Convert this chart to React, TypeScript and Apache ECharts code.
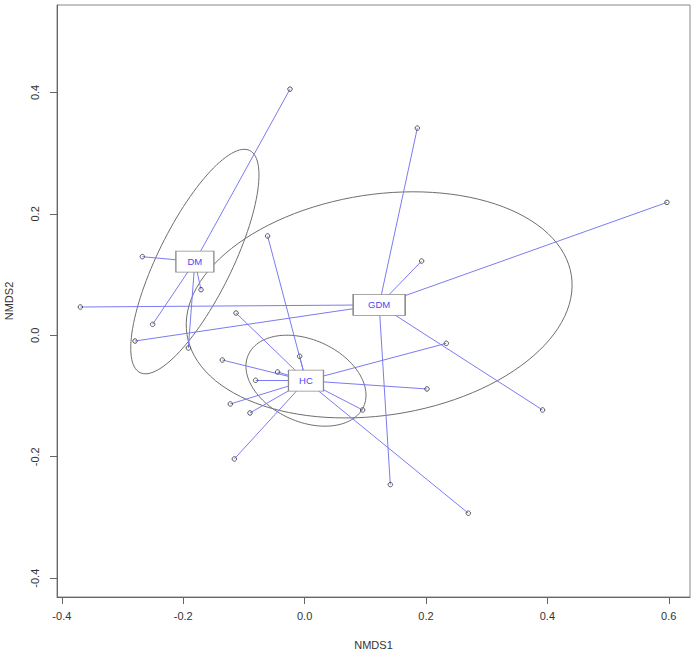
import React, { useEffect, useRef } from "react";
import * as echarts from "echarts";

// Group names (ordination centroids are the mean of each group's site scores)
const groups = ["DM", "GDM", "HC"];

// Site scores (NMDS1, NMDS2) per group
const dmX = [-0.0241, -0.2674, -0.1707, -0.2504, -0.1916];
const dmY = [0.4054, 0.1295, 0.0752, 0.0181, -0.0209];
const gdmX = [-0.3695, -0.2794, 0.1857, 0.1928, 0.597, 0.3921, 0.1412];
const gdmY = [0.0466, -0.0094, 0.3412, 0.1223, 0.2189, -0.123, -0.2458];
const hcX = [-0.061, -0.0082, -0.113, -0.1356, -0.0445, -0.0807, -0.1224, -0.09, -0.1158, 0.2334, 0.2016, 0.0956, 0.2697];
const hcY = [0.1635, -0.0346, 0.0367, -0.0407, -0.0604, -0.0741, -0.1131, -0.1279, -0.2036, -0.0132, -0.0884, -0.123, -0.293];

// Ellipse semi-axes (data units) and rotation (degrees) per group
const ellipseA = [0.204, 0.3204, 0.1041];
const ellipseB = [0.061, 0.1819, 0.0675];
const ellipseAngle = [63.7, 8.7, -24.2];

// Axis ticks
const xTicks = [-0.4, -0.2, 0, 0.2, 0.4, 0.6];
const yTicks = [-0.4, -0.2, 0, 0.2, 0.4];
const xRange = [-0.408, 0.635];
const yRange = [-0.431, 0.544];

const groupX = [dmX, gdmX, hcX];
const groupY = [dmY, gdmY, hcY];

const FONT = "'Liberation Sans', Arial, Helvetica, sans-serif";
const boxSize: Record<string, number[]> = { DM: [38, 21], GDM: [52, 21], HC: [35, 21] };

function mean(a: number[]) {
  return a.reduce((s, v) => s + v, 0) / a.length;
}

export default function App() {
  const ref = useRef<HTMLDivElement>(null);
  useEffect(() => {
    document.body.style.margin = "0";
    if (!ref.current) return;
    const chart = echarts.init(ref.current, null, { renderer: "svg" });

    const centroids = groups.map((g, i) => [mean(groupX[i]), mean(groupY[i])]);

    const spiderData: any[] = [];
    const pointData: number[][] = [];
    groups.forEach((g, i) => {
      groupX[i].forEach((x, j) => {
        const y = groupY[i][j];
        spiderData.push({ coords: [centroids[i], [x, y]] });
        pointData.push([x, y]);
      });
    });

    const ellipseData = groups.map((g, i) => [
      centroids[i][0],
      centroids[i][1],
      ellipseA[i],
      ellipseB[i],
      ellipseAngle[i],
    ]);

    const labelData = groups.map((g, i) => ({
      name: g,
      value: centroids[i],
      symbolSize: boxSize[g],
    }));

    const axisLabelBase = {
      fontSize: 11,
      color: "#333",
      fontFamily: FONT,
      formatter: (v: number) => v.toFixed(1),
    };

    const option: any = {
      animation: false,
      backgroundColor: "#fff",
      grid: {
        left: 57,
        right: 6,
        top: 5,
        bottom: 58,
        show: true,
        borderColor: "#888",
        borderWidth: 1,
        containLabel: false,
        outerBoundsMode: "none",
      },
      xAxis: {
        type: "value",
        min: xRange[0],
        max: xRange[1],
        name: "NMDS1",
        nameLocation: "middle",
        nameGap: 42,
        nameTextStyle: { fontSize: 11, color: "#333", fontFamily: FONT },
        axisLine: { show: true, onZero: false, lineStyle: { color: "#666", width: 1 } },
        axisTick: { show: true, length: 7, customValues: xTicks, lineStyle: { color: "#666" } },
        axisLabel: { ...axisLabelBase, margin: 13, customValues: xTicks },
        splitLine: { show: false },
      },
      yAxis: {
        type: "value",
        min: yRange[0],
        max: yRange[1],
        name: "NMDS2",
        nameLocation: "middle",
        nameGap: 43,
        nameRotate: 90,
        nameTextStyle: { fontSize: 11, color: "#333", fontFamily: FONT },
        axisLine: { show: true, onZero: false, lineStyle: { color: "#666", width: 1 } },
        axisTick: { show: true, length: 7, customValues: yTicks, lineStyle: { color: "#666" } },
        axisLabel: { ...axisLabelBase, rotate: 90, margin: 17, customValues: yTicks },
        splitLine: { show: false },
      },
      series: [
        {
          type: "custom",
          coordinateSystem: "cartesian2d",
          data: ellipseData,
          encode: { x: 0, y: 1 },
          z: 1,
          silent: true,
          renderItem: (params: any, api: any) => {
            const cx = api.value(0);
            const cy = api.value(1);
            const a = api.value(2);
            const b = api.value(3);
            const th = (api.value(4) * Math.PI) / 180;
            const pts: number[][] = [];
            const n = 120;
            for (let k = 0; k <= n; k++) {
              const t = (2 * Math.PI * k) / n;
              const ex = a * Math.cos(t);
              const ey = b * Math.sin(t);
              const x = cx + ex * Math.cos(th) - ey * Math.sin(th);
              const y = cy + ex * Math.sin(th) + ey * Math.cos(th);
              pts.push(api.coord([x, y]));
            }
            return {
              type: "polyline",
              shape: { points: pts },
              style: { stroke: "#6e6e6e", lineWidth: 1, fill: "none" },
            };
          },
        },
        {
          type: "lines",
          coordinateSystem: "cartesian2d",
          data: spiderData,
          z: 2,
          silent: true,
          symbol: ["none", "none"],
          lineStyle: { color: "#7b7bf2", width: 1, opacity: 1, curveness: 0 },
        },
        {
          type: "scatter",
          data: pointData,
          z: 3,
          silent: true,
          symbol: "circle",
          symbolSize: 4.5,
          itemStyle: { color: "rgba(255,255,255,0)", borderColor: "#555", borderWidth: 1, opacity: 1 },
        },
        {
          type: "scatter",
          data: labelData,
          z: 4,
          silent: true,
          symbol: "rect",
          itemStyle: { color: "#fff", borderColor: "#8a8a8a", borderWidth: 1, opacity: 1 },
          label: {
            show: true,
            position: "inside",
            formatter: "{b}",
            color: "#4646f5",
            fontSize: 9.5,
            fontFamily: FONT,
          },
        },
      ],
    };
    chart.setOption(option);
    return () => chart.dispose();
  }, []);
  return (
    <div
      ref={ref}
      style={{ position: "absolute", left: 0, top: 0, width: 696, height: 655, background: "#fff" }}
    />
  );
}
